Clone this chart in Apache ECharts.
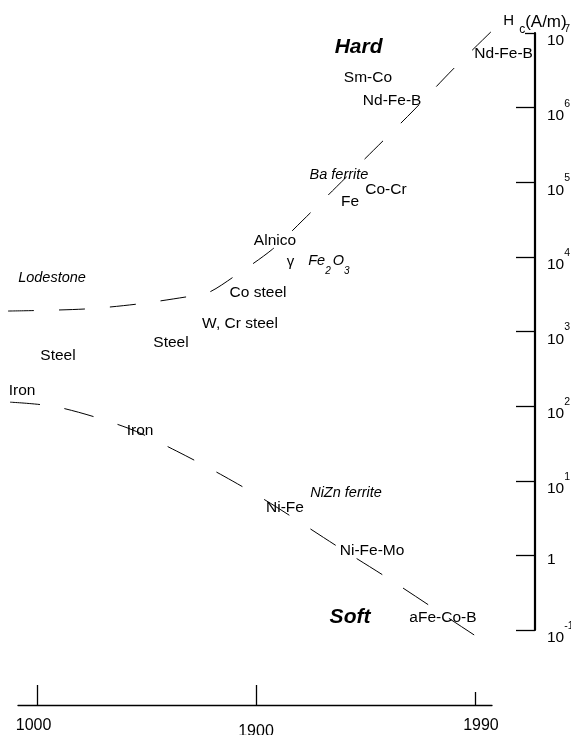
<!DOCTYPE html>
<html><head><meta charset="utf-8">
<script src="https://cdn.jsdelivr.net/npm/echarts@6/dist/echarts.min.js"></script>
<style>html,body{margin:0;padding:0;background:#fff}#c{width:571px;height:735px}</style>
</head><body><div id="c"></div>
<script>
// The time axis is logarithmic in "years before 2000".
const REF_YEAR = 2000;
const xTickYears = [1000, 1900, 1990];
const yTickValues = [0.1, 1, 10, 100, 1e3, 1e4, 1e5, 1e6, 1e7];

// Hard magnets: coercivity Hc (A/m) vs year
const hardYears = [643, 1390, 1651, 1789, 1833, 1873, 1916, 1939, 1957, 1971, 1981, 1987.3, 1991.9];
const hardHc    = [1880, 2000, 2330, 2890, 3270, 5360, 12700, 31100, 86200, 270000, 929000, 3190000, 11700000];

// Soft magnets
const softYears = [672, 1198, 1616, 1770, 1860, 1914, 1958, 1975, 1985.5, 1991.3];
const softHc    = [113, 97, 50.7, 24.9, 11.5, 5.0, 1.29, 0.495, 0.173, 0.0645];

// Annotations
const labelTexts = ['Hard', 'Sm-Co', 'Nd-Fe-B', 'Nd-Fe-B', 'Ba ferrite', 'Co-Cr', 'Fe', 'Alnico', 'γ Fe2O3',
  'Co steel', 'W, Cr steel', 'Lodestone', 'Steel', 'Steel', 'Iron', 'Iron', 'NiZn ferrite', 'Ni-Fe',
  'Ni-Fe-Mo', 'Soft', 'aFe-Co-B'];
const labelYears = [1966, 1969.2, 1976.1, 1992.6, 1958.2, 1974.5, 1962.8, 1918.1, 1927.6,
  1902.1, 1881.7, 1145.7, 1198, 1755.6, 829, 1661.5, 1961.2, 1926.3,
  1970.5, 1962.8, 1986];
const labelHc = [6.49e6, 2.49e6, 1.226e6, 5.23e6, 1.249e5, 78600, 54300, 16280, 8700,
  3270, 1257, 5200, 468, 699, 159, 46.2, 6.82, 4.29,
  1.14, 0.148, 0.144];
const labelKinds = ['region', 'material', 'material', 'material', 'class', 'material', 'material', 'material', 'formula',
  'material', 'material', 'class', 'material', 'material', 'material', 'material', 'class', 'material',
  'material', 'region', 'material'];

const FONT = '"Liberation Sans", Arial, sans-serif';
const kindStyle = {
  region: { fontSize: 21, fontWeight: 'bold', fontStyle: 'italic' },
  class: { fontSize: 14.5, fontStyle: 'italic' },
  material: { fontSize: 15.5 },
  formula: { align: 'left' }
};
const xTokens = ['l', 'm', 'r'];
const T = (o) => Object.assign({ fontFamily: FONT, color: '#000' }, o);

// time range covered by the plot area (years)
const X_FIRST_YEAR = 643.1, X_LAST_YEAR = 1991.9;
const xLog = {
  type: 'log', logBase: 10, inverse: true, gridIndex: 0,
  min: REF_YEAR - X_LAST_YEAR, max: REF_YEAR - X_FIRST_YEAR,
  position: 'bottom', offset: 75, splitLine: { show: false }
};
const yLog = {
  type: 'log', logBase: 10, gridIndex: 0, position: 'right', offset: 40,
  min: 0.1, max: 1e7, splitLine: { show: false }
};
const tickStyle = { color: '#000', width: 1.3 };
const lastX = xTickYears[xTickYears.length - 1];
const topY = yTickValues[yTickValues.length - 1];

const chart = echarts.init(document.getElementById('c'), null, { renderer: 'canvas' });
chart.setOption({
  animation: false,
  backgroundColor: '#fff',
  grid: [
    { left: 8, right: 76, top: 33, bottom: 105, containLabel: false, outerBoundsMode: 'none' },
    { left: 18, right: 79, top: 33, bottom: 105, containLabel: false, outerBoundsMode: 'none' }
  ],
  xAxis: [
    Object.assign({}, xLog, {
      axisLine: { show: false },
      axisTick: { show: true, inside: true, length: 20, lineStyle: tickStyle,
        customValues: xTickYears.filter(y => y !== lastX).map(y => REF_YEAR - y) },
      axisLabel: {
        show: true, margin: 13, color: '#000', fontFamily: FONT, fontSize: 16,
        customValues: xTickYears.map(y => REF_YEAR - y),
        formatter: v => {
          const yr = Math.round(REF_YEAR - v);
          const i = xTickYears.indexOf(yr);
          return '{' + xTokens[Math.max(i, 0)] + '|' + yr + '}';
        },
        rich: {
          l: T({ fontSize: 16, lineHeight: 16, padding: [0, 7, 0, 0] }),
          m: T({ fontSize: 16, lineHeight: 16, padding: [12, 0, 0, 0] }),
          r: T({ fontSize: 16, lineHeight: 16, padding: [0, 0, 0, 12] })
        }
      }
    }),
    Object.assign({}, xLog, {
      axisLine: { show: false },
      axisTick: { show: true, inside: true, length: 13, lineStyle: tickStyle,
        customValues: [REF_YEAR - lastX] },
      axisLabel: { show: false }
    }),
    {
      type: 'value', gridIndex: 1, min: 0, max: 1, position: 'bottom', offset: 75,
      axisLine: { show: true, onZero: false, lineStyle: tickStyle },
      axisTick: { show: false }, axisLabel: { show: false }, splitLine: { show: false }
    }
  ],
  yAxis: [
    Object.assign({}, yLog, {
      name: '{h|H}{c|c}{u|(A/m)}', nameLocation: 'end', nameGap: 0, nameMoveOverlap: false,
      nameTextStyle: {
        rich: {
          h: T({ fontSize: 15, lineHeight: 15, padding: [0, 5, 7, 0] }),
          c: T({ fontSize: 12, lineHeight: 12, padding: [10, 0, 0, 0] }),
          u: T({ fontSize: 17, lineHeight: 17, padding: [0, 0, 5, 0] })
        }
      },
      axisLine: { show: true, onZero: false, lineStyle: { color: '#000', width: 2.2 } },
      axisTick: { show: true, inside: true, length: 19, lineStyle: tickStyle,
        customValues: yTickValues.filter(v => v !== topY) },
      axisLabel: {
        show: true, margin: 12,
        customValues: yTickValues,
        formatter: v => {
          const e = Math.round(Math.log10(v));
          if (e === 0) return '{o|1}';
          return '{b|10}{e|' + e + '}';
        },
        rich: {
          b: T({ fontSize: 15.5, lineHeight: 16, padding: [16, 0, 0, 0] }),
          e: T({ fontSize: 10.5, lineHeight: 11, padding: [6.5, 0, 14.5, 0] }),
          o: T({ fontSize: 15.5, lineHeight: 16, padding: [12, 0, 4, 0] })
        }
      }
    }),
    Object.assign({}, yLog, {
      axisLine: { show: false },
      axisTick: { show: true, inside: true, length: 10, lineStyle: tickStyle, customValues: [topY] },
      axisLabel: { show: false }
    }),
    { type: 'value', gridIndex: 1, show: false, min: 0, max: 1 }
  ],
  series: [
    {
      name: 'Hard', type: 'line', xAxisIndex: 0, yAxisIndex: 0, clip: false, smooth: 0.3,
      showSymbol: false, silent: true,
      data: hardYears.map((y, i) => [REF_YEAR - y, hardHc[i]]),
      lineStyle: { color: '#000', width: 1, type: [26, 25] }
    },
    {
      name: 'Soft', type: 'line', xAxisIndex: 0, yAxisIndex: 0, clip: false, smooth: 0.3,
      showSymbol: false, silent: true,
      data: softYears.map((y, i) => [REF_YEAR - y, softHc[i]]),
      lineStyle: { color: '#000', width: 1, type: [30, 25] }
    },
    {
      name: 'Labels', type: 'scatter', xAxisIndex: 0, yAxisIndex: 0, clip: false, silent: true,
      symbol: 'circle', symbolSize: 0, itemStyle: { color: '#000', opacity: 1 },
      data: labelTexts.map((t, i) => ({
        name: t, value: [REF_YEAR - labelYears[i], labelHc[i]],
        label: kindStyle[labelKinds[i]]
      })),
      label: {
        show: true, position: 'inside', color: '#000', opacity: 1, fontFamily: FONT, fontSize: 15.5,
        textBorderWidth: 0,
        formatter: p => {
          if (labelKinds[p.dataIndex] === 'formula') return '{n|γ}{i|Fe}{s|2}{i|O}{s|3}';
          return p.name;
        },
        rich: {
          n: T({ fontSize: 15, lineHeight: 15, padding: [8, 14, 7, 0] }),
          i: T({ fontSize: 14.5, lineHeight: 15, fontStyle: 'italic', padding: [7, 0, 8, 0] }),
          s: T({ fontSize: 10, lineHeight: 10, fontStyle: 'italic', padding: [20, 2, 0, 0] })
        }
      }
    }
  ]
});
</script>
</body></html>
